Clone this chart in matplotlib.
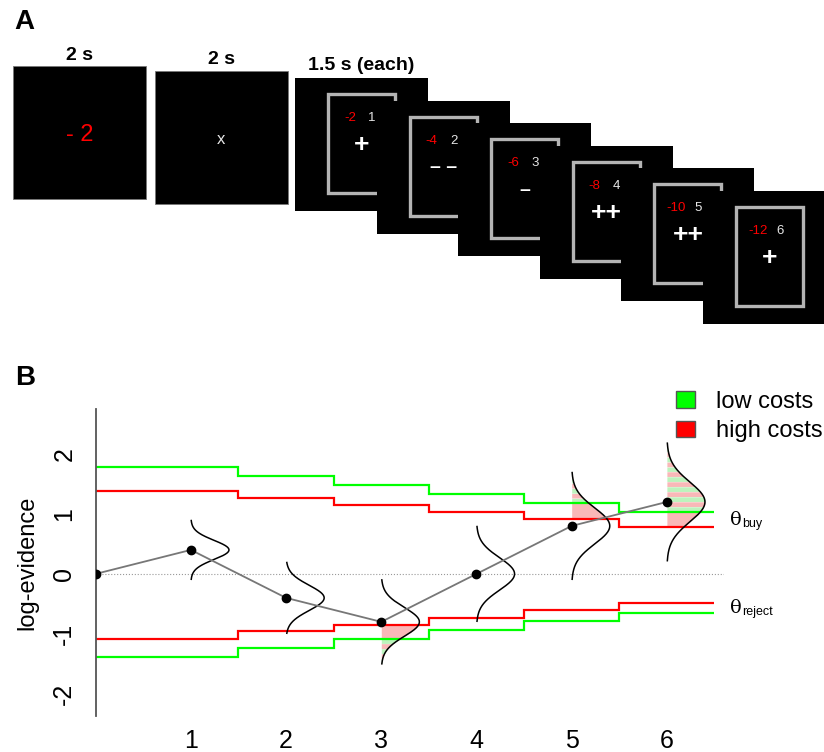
import numpy as np
import matplotlib.pyplot as plt
from matplotlib.patches import Rectangle, Patch

plt.rcParams['font.family'] = ['Liberation Sans', 'DejaVu Sans']
plt.rcParams['axes.unicode_minus'] = False

# ---- panel A: trial sequence ----
durations = ["2 s", "2 s", "1.5 s (each)"]
cue_value = "- 2"
fix_mark = "x"
running_cost = [-2, -4, -6, -8, -10, -12]
sample_no = [1, 2, 3, 4, 5, 6]
sample_sign = ["+", "--", "-", "++", "++", "+"]

# ---- panel B: log-evidence and bounds ----
steps = [0, 1, 2, 3, 4, 5, 6]
log_ev = [0, 0.4, -0.4, -0.8, 0, 0.8, 1.2]
bound_edges = [0, 1.5, 2.5, 3.5, 4.5, 5.5, 6.5]
low_buy = [1.78, 1.63, 1.48, 1.33, 1.18, 1.04]
high_buy = [1.38, 1.26, 1.15, 1.03, 0.91, 0.79]
high_reject = [-1.08, -0.96, -0.85, -0.73, -0.61, -0.49]
low_reject = [-1.38, -1.23, -1.08, -0.93, -0.79, -0.65]
spread = [0.49, 0.59, 0.70, 0.79, 0.89, 0.98]
sd = [0.16, 0.21, 0.24, 0.27, 0.30, 0.33]
shaded = {3: "reject", 5: "buy", 6: "buy"}

RED = "#ff0000"
GREEN = "#00ff00"
PINK = "#f9b8b8"
LGREEN = "#bdf3bd"

fig = plt.figure(figsize=(8.24, 7.52), dpi=100)

axA = fig.add_axes([0, 0, 1, 1])
axA.set_xlim(0, 824)
axA.set_ylim(752, 0)
axA.axis("off")

S = 133
for i, (x0, y0) in enumerate([(13, 66), (155, 71)]):
    axA.add_patch(Rectangle((x0, y0), S, S, fc="black", ec="#777777", lw=0.6))
    axA.text(x0 + S / 2, y0 - 11, durations[i], ha="center", va="center",
             fontsize=14, fontweight="bold")
axA.text(13 + S / 2, 66 + 69, cue_value, color=RED, fontsize=17, ha="center", va="center")
axA.text(155 + S / 2, 71 + 69, fix_mark, color="#e6e6e6", fontsize=12, ha="center", va="center")
axA.text(295 + S / 2, 78 - 13, durations[2], ha="center", va="center",
         fontsize=14, fontweight="bold")

for k in range(6):
    x0 = 295 + 81.6 * k
    y0 = 78 + 22.6 * k
    z = 10 + 3 * k
    axA.add_patch(Rectangle((x0, y0), S, S, fc="black", ec="none", zorder=z))
    axA.add_patch(Rectangle((x0 + 33, y0 + 16), 67, 99, fill=False, ec="#b4b4b4",
                            lw=2.4, zorder=z + 1))
    axA.text(x0 + 55, y0 + 40, str(running_cost[k]), color=RED, fontsize=9.5,
             ha="center", va="center", zorder=z + 2)
    axA.text(x0 + 77, y0 + 40, str(sample_no[k]), color="#e6e6e6", fontsize=9.5,
             ha="center", va="center", zorder=z + 2)
    sign = sample_sign[k]
    if "-" in sign:
        shown, fs = " ".join("–" * len(sign)), 14
    else:
        shown, fs = sign, 19
    axA.text(x0 + 67, y0 + 67, shown, color="white", fontsize=fs,
             fontweight="bold", ha="center", va="center", zorder=z + 2)

fig.text(14 / 824, 1 - 22 / 752, "A", fontsize=20, fontweight="bold", va="center")
fig.text(15 / 824, 1 - 378 / 752, "B", fontsize=20, fontweight="bold", va="center")

# ---- panel B ----
axB = fig.add_axes([95.7 / 824, 36 / 752, 628.3 / 824, 307 / 752])
axB.set_xlim(0, 6.6)
axB.set_ylim(-2.37, 2.75)

axB.plot([0, 6.6], [0, 0], ls=":", color="#999999", lw=0.8, zorder=1)

axB.stairs(low_buy, bound_edges, baseline=None, color=GREEN, lw=1.6, zorder=2)
axB.stairs(low_reject, bound_edges, baseline=None, color=GREEN, lw=1.6, zorder=2)
axB.stairs(high_buy, bound_edges, baseline=None, color=RED, lw=1.6, zorder=2)
axB.stairs(high_reject, bound_edges, baseline=None, color=RED, lw=1.6, zorder=2)

amp = 0.4
stripe = 0.083
for i, t in enumerate(steps[1:]):
    m, h, s = log_ev[t], spread[i], sd[i]
    yy = np.linspace(m - h, m + h, 400)
    xx = t + amp * np.exp(-0.5 * ((yy - m) / s) ** 2)
    if t in shaded:
        if shaded[t] == "buy":
            r, g, far, sgn = high_buy[i], low_buy[i], m + h, 1
        else:
            r, g, far, sgn = high_reject[i], low_reject[i], m - h, -1
        bands = [(r, g, PINK)]
        y = g
        n = 0
        while sgn * (far - y) > 0:
            y2 = y + sgn * stripe
            bands.append((y, y2, LGREEN if n % 2 == 0 else PINK))
            y = y2
            n += 1
        for a, b, c in bands:
            lo, hi = min(a, b), max(a, b)
            mask = (yy >= lo) & (yy <= hi)
            if mask.sum() > 1:
                axB.fill_betweenx(yy[mask], t, xx[mask], color=c, lw=0, zorder=1.5)
    axB.plot(xx, yy, color="black", lw=1.1, zorder=4)

axB.plot(steps, log_ev, color="#777777", lw=1.3, zorder=5)
axB.plot(steps, log_ev, "o", color="black", ms=6, zorder=6)

axB.text(6.66, 0.9, "θ", fontsize=14, family="DejaVu Serif", ha="left", va="center")
axB.text(6.79, 0.83, "buy", fontsize=9, ha="left", va="center")
axB.text(6.66, -0.57, "θ", fontsize=14, family="DejaVu Serif", ha="left", va="center")
axB.text(6.79, -0.64, "reject", fontsize=9, ha="left", va="center")

axB.set_yticks([-2, -1, 0, 1, 2])
axB.set_xticks(sample_no)
axB.tick_params(axis="y", length=0, pad=14, labelsize=18, labelrotation=90)
axB.tick_params(axis="x", length=0, pad=9, labelsize=18)
for lab in axB.get_yticklabels():
    lab.set_va("center")
for sp in ["top", "right", "bottom"]:
    axB.spines[sp].set_visible(False)
axB.spines["left"].set_color("#555555")
axB.spines["left"].set_linewidth(1.3)
axB.set_ylabel("log-evidence", fontsize=17)
axB.yaxis.set_label_coords(-0.092, 0.5)

handles = [Patch(fc=GREEN, ec="#555555", label="low costs"),
           Patch(fc=RED, ec="#555555", label="high costs")]
axB.legend(handles=handles, loc="upper left", bbox_to_anchor=(676 / 824, 1 - 391 / 752),
           bbox_transform=fig.transFigure, frameon=False, fontsize=17,
           handlelength=0.8, handleheight=0.7, handletextpad=0.9,
           labelspacing=0.3, borderpad=0, borderaxespad=0)

fig.savefig("out.png", dpi=100)
